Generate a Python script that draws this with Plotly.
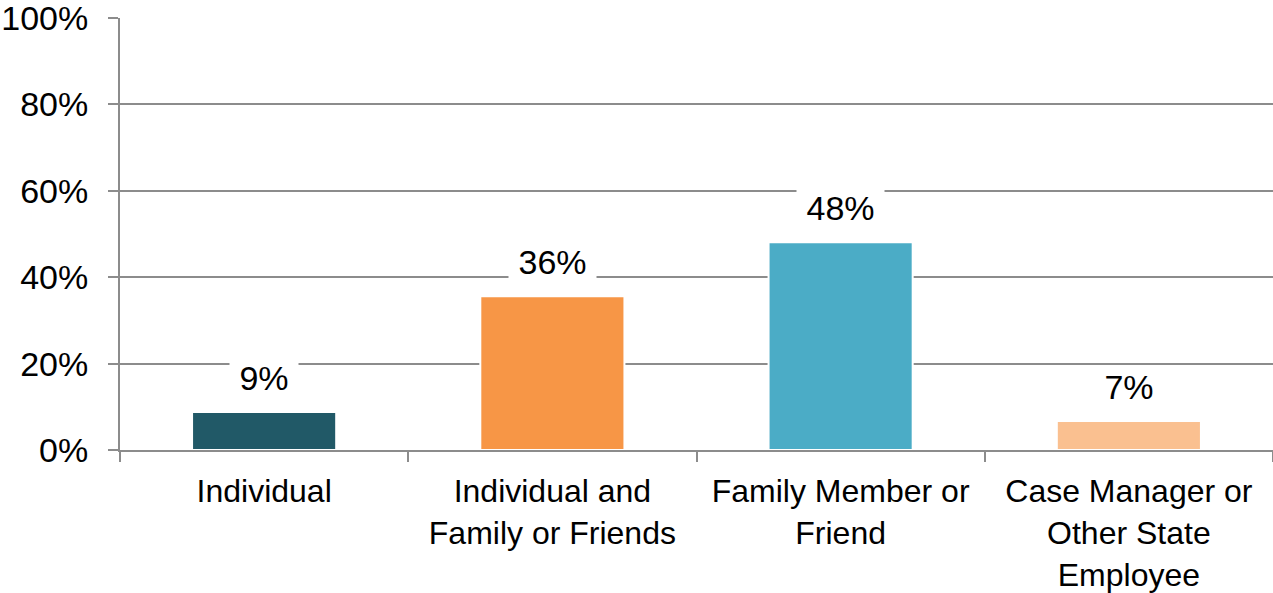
import plotly.graph_objects as go

categories = ["Individual", "Individual and<br>Family or Friends", "Family Member or<br>Friend",
              "Case Manager or<br>Other State<br>Employee"]
values = [8.8, 35.6, 48.1, 6.7]
labels = ["9%", "36%", "48%", "7%"]
colors = ["#215967", "#F79646", "#4BACC6", "#FAC090"]
y_ticks = [0, 20, 40, 60, 80, 100]
y_tick_text = ["0%", "20%", "40%", "60%", "80%", "100%"]

FONT = "Arial, 'Liberation Sans', sans-serif"
FS = 34
GRID = "#8c8c8c"

fig = go.Figure()
fig.add_trace(go.Bar(
    x=categories, y=values,
    marker=dict(color=colors, line=dict(color="white", width=2)),
    hoverinfo="skip",
))

for c, v, t in zip(categories, values, labels):
    fig.add_annotation(
        x=c, y=v, text=t, showarrow=False,
        xref="x", yref="y", yanchor="middle", yshift=34,
        font=dict(family=FONT, size=FS, color="black"),
        bgcolor="white", borderpad=0,
        width=len(t) * 19 + 30, height=40,
    )

fig.update_layout(
    width=1273, height=593,
    margin=dict(l=120, r=0, t=18, b=143, autoexpand=False),
    paper_bgcolor="white", plot_bgcolor="white",
    bargap=0.5, showlegend=False,
    font=dict(family=FONT, size=FS, color="black"),
)
fig.update_yaxes(
    range=[0, 100], tickmode="array", tickvals=y_ticks, ticktext=y_tick_text,
    showgrid=True, gridcolor=GRID, gridwidth=2,
    showline=True, linecolor=GRID, linewidth=2,
    ticks="outside", ticklen=10, tickcolor=GRID, tickwidth=2,
    zeroline=False, ticklabelstandoff=13, automargin=False,
    ticklabeloverflow="allow",
    tickfont=dict(family=FONT, size=FS, color="black"),
)
fig.update_xaxes(
    showline=True, linecolor=GRID, linewidth=2,
    ticks="outside", ticklen=10, tickcolor=GRID, tickwidth=2,
    tickson="boundaries", showgrid=False, ticklabelstandoff=12,
    automargin=False, ticklabeloverflow="allow",
    tickfont=dict(family=FONT, size=32, color="black"),
)

# remove the browser's default 8px body margin so the figure fills the window
fig.write_html("out.html", config={"displayModeBar": False},
               post_script="document.body.style.margin='0';")
